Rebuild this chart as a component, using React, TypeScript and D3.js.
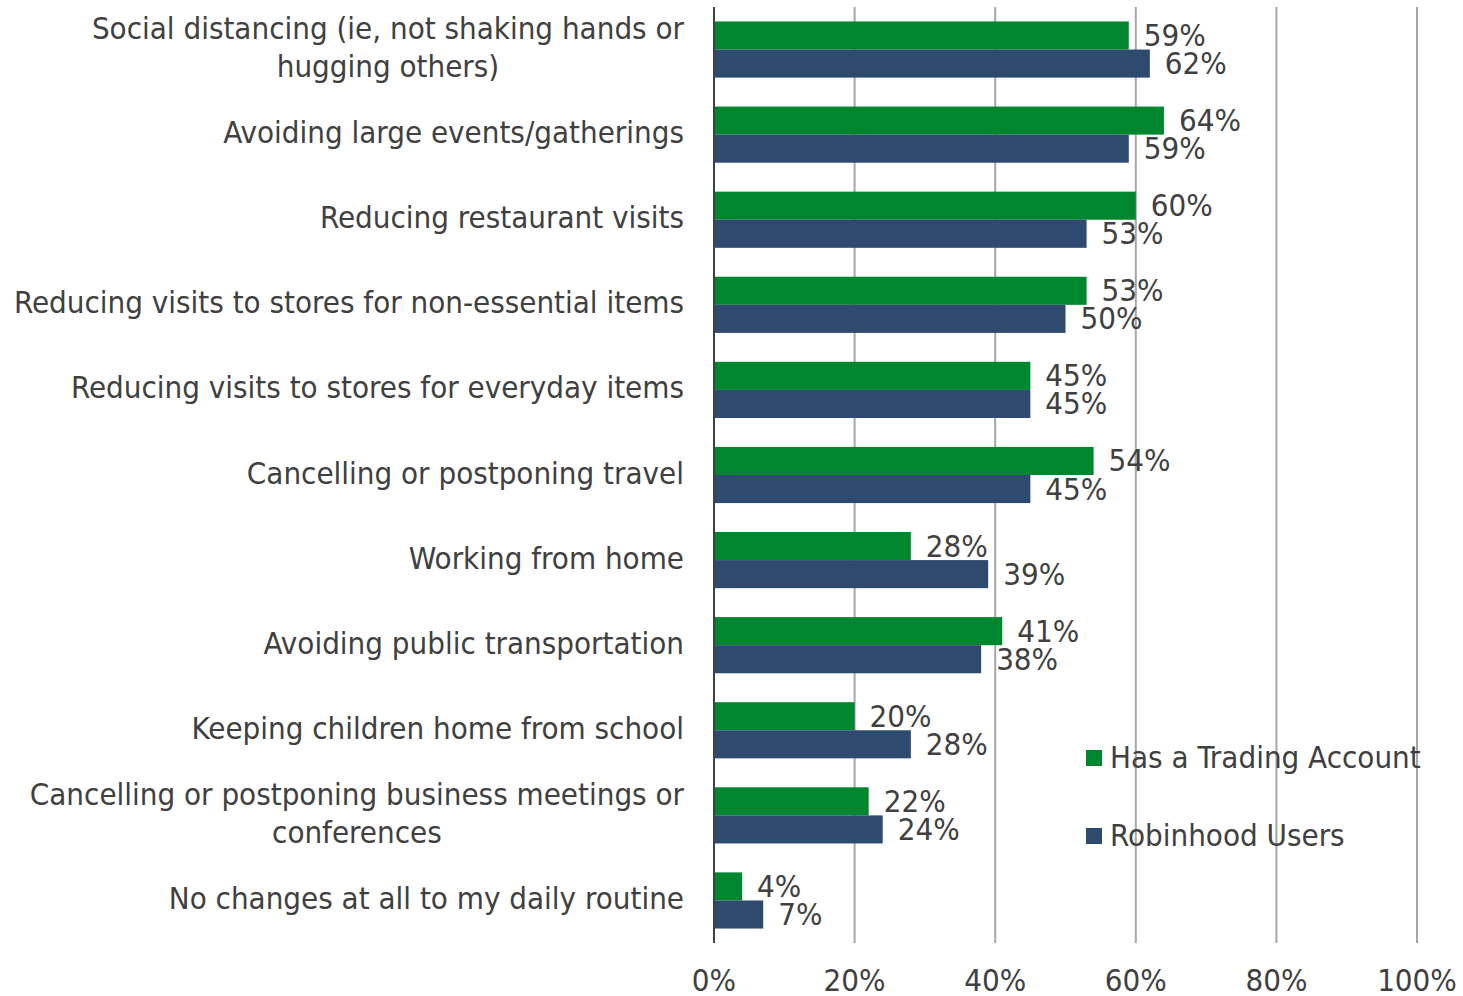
import * as d3 from 'd3';
import React from 'react';

const width = 1463;
const height = 996;
const margin = { top: 7, right: 46, bottom: 56, left: 714 };
const green = '#00862f';
const blue = '#2e4a6e';
const textColor = '#404040';
const font = '"DejaVu Sans Condensed", "DejaVu Sans", sans-serif';
const fontSize = 31;

const categories = [
  ['Social distancing (ie, not shaking hands or', 'hugging others)'],
  ['Avoiding large events/gatherings'],
  ['Reducing restaurant visits'],
  ['Reducing visits to stores for non-essential items'],
  ['Reducing visits to stores for everyday items'],
  ['Cancelling or postponing travel'],
  ['Working from home'],
  ['Avoiding public transportation'],
  ['Keeping children home from school'],
  ['Cancelling or postponing business meetings or', 'conferences'],
  ['No changes at all to my daily routine'],
];
const tradingAccount = [59, 64, 60, 53, 45, 54, 28, 41, 20, 22, 4];
const robinhoodUsers = [62, 59, 53, 50, 45, 45, 39, 38, 28, 24, 7];
const seriesNames = ['Has a Trading Account', 'Robinhood Users'];
const ticks = [0, 20, 40, 60, 80, 100];

// measure text so multi-line labels can be centred as a block
const ctx = document.createElement('canvas').getContext('2d');
const measure = (s: string) => {
  if (!ctx) return s.length * 14;
  ctx.font = `${fontSize}px ${font}`;
  return ctx.measureText(s).width;
};

const App = () => {
  const plotBottom = height - margin.bottom + 3;
  const xScale = d3.scaleLinear().domain([0, 100]).range([margin.left, width - margin.right]);
  const yScale = d3.scaleBand<number>()
    .domain(d3.range(categories.length))
    .range([margin.top, plotBottom])
    .paddingInner(0.34)
    .paddingOuter(0.17);
  const inner = d3.scaleBand<number>().domain([0, 1]).range([0, yScale.bandwidth()]);
  const series = [tradingAccount, robinhoodUsers];
  const colors = [green, blue];
  const labelRight = 684;

  return (
    <svg width={width} height={height} style={{ display: 'block', position: 'fixed', left: 0, top: 0 }}>
      <rect width={width} height={height} fill='#fff' />
      {ticks.slice(1).map(t => (
        <line key={t} x1={xScale(t)} x2={xScale(t)} y1={margin.top} y2={plotBottom} stroke='#a6a6a6' strokeWidth='2' />
      ))}
      {series.map((vals, s) => vals.map((v, i) => (
        <rect key={`${s}-${i}`} x={xScale(0)} y={(yScale(i) as number) + (inner(s) as number)}
          width={xScale(v) - xScale(0)} height={inner.bandwidth()} fill={colors[s]} />
      )))}
      <line x1={xScale(0)} x2={xScale(0)} y1={margin.top} y2={plotBottom} stroke='#404040' strokeWidth='2' />
      {series.map((vals, s) => vals.map((v, i) => (
        <text key={`l${s}-${i}`} x={xScale(v) + 15}
          y={(yScale(i) as number) + (inner(s) as number) + inner.bandwidth() / 2 + 2}
          dominantBaseline='middle' fontFamily={font} fontSize={fontSize} fill={textColor}>{v}%</text>
      )))}
      {categories.map((lines, i) => {
        const cy = (yScale(i) as number) + yScale.bandwidth() / 2;
        const lh = 38;
        const multi = lines.length > 1;
        const blockW = d3.max(lines, measure) as number;
        const cx = labelRight - blockW / 2;
        return (
          <text key={`c${i}`} textAnchor={multi ? 'middle' : 'end'} fontFamily={font} fontSize={fontSize} fill={textColor}>
            {lines.map((ln, j) => (
              <tspan key={j} x={multi ? cx : labelRight} y={cy + (j - (lines.length - 1) / 2) * lh} dominantBaseline='middle'>{ln}</tspan>
            ))}
          </text>
        );
      })}
      {ticks.map(t => (
        <text key={`t${t}`} x={xScale(t)} y={982} textAnchor='middle' dominantBaseline='middle'
          fontFamily={font} fontSize={fontSize} fill={textColor}>{t}%</text>
      ))}
      {seriesNames.map((name, s) => (
        <g key={name} transform={`translate(1086, ${758 + s * 78})`}>
          <rect x={0} y={-8} width={16} height={16} fill={colors[s]} />
          <text x={24} y={1} dominantBaseline='middle' fontFamily={font} fontSize={fontSize} fill={textColor}>{name}</text>
        </g>
      ))}
    </svg>
  );
};

export default App;
